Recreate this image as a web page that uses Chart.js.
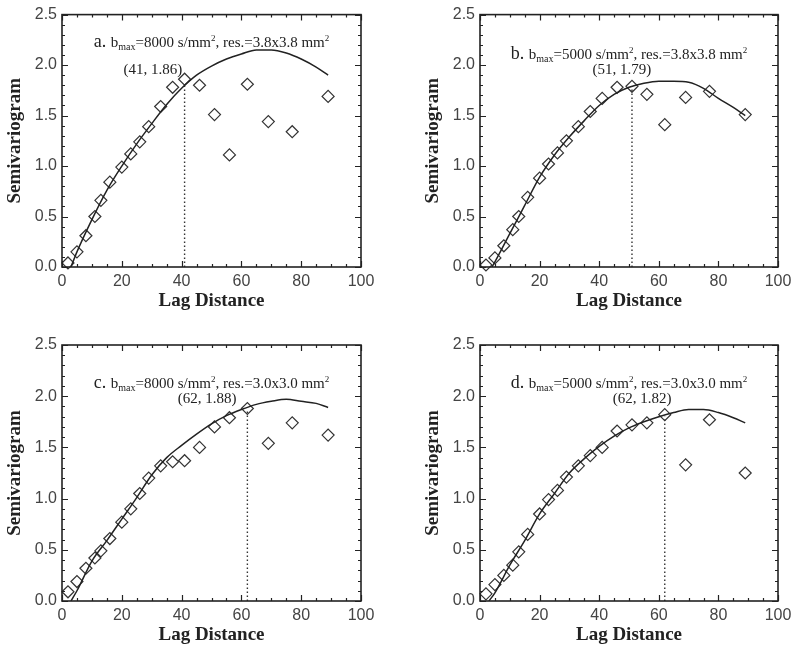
<!DOCTYPE html>
<html><head><meta charset="utf-8">
<script src="https://cdn.jsdelivr.net/npm/chart.js@4/dist/chart.umd.min.js"></script>
<style>
html,body{margin:0;padding:0;background:#fff;}
#wrap{position:relative;width:800px;height:652px;overflow:hidden;}
canvas{position:absolute;}
</style></head><body>
<div id="wrap">
<canvas id="ca" width="400" height="326" style="left:0;top:0"></canvas>
<canvas id="cb" width="400" height="326" style="left:400px;top:0"></canvas>
<canvas id="cc" width="400" height="326" style="left:0;top:326px"></canvas>
<canvas id="cd" width="400" height="326" style="left:400px;top:326px"></canvas>
</div>
<script>
// ---- data ----
const lags = [2,5,8,11,13,16,20,23,26,29,33,37,41,46,51,56,62,69,77,89];
const semiA = [0.04,0.15,0.31,0.50,0.66,0.84,0.99,1.12,1.24,1.39,1.59,1.78,1.86,1.80,1.51,1.11,1.81,1.44,1.34,1.69];
const semiB = [0.02,0.09,0.21,0.37,0.50,0.69,0.88,1.02,1.13,1.25,1.39,1.54,1.67,1.78,1.79,1.71,1.41,1.68,1.74,1.51];
const semiC = [0.09,0.19,0.32,0.42,0.49,0.61,0.77,0.90,1.05,1.20,1.32,1.36,1.37,1.50,1.70,1.79,1.88,1.54,1.74,1.62];
const semiD = [0.07,0.16,0.25,0.35,0.48,0.65,0.85,0.99,1.08,1.21,1.32,1.42,1.50,1.66,1.72,1.74,1.82,1.33,1.77,1.25];

const fitLagsA = [3,5,10,15,20,25,30,35,40,45,50,55,60,65,70,75,80,85,89];
const fitA = [0,0.15,0.47,0.76,1.00,1.22,1.42,1.61,1.77,1.90,1.99,2.06,2.11,2.15,2.15,2.12,2.06,1.98,1.90];
const fitLagsB = [4,5,10,15,20,25,30,35,40,45,50,55,60,65,70,75,80,85,89];
const fitB = [0,0.05,0.33,0.61,0.89,1.11,1.29,1.45,1.60,1.71,1.78,1.82,1.84,1.84,1.83,1.77,1.67,1.58,1.50];
const fitLagsC = [3,5,10,15,20,25,30,35,40,45,50,55,60,65,70,75,80,85,89];
const fitC = [0,0.10,0.39,0.59,0.80,1.01,1.23,1.40,1.52,1.63,1.73,1.81,1.87,1.92,1.95,1.97,1.95,1.93,1.89];
const fitLagsD = [3,5,10,15,20,25,30,35,40,45,50,55,60,65,70,75,80,85,89];
const fitD = [0,0.08,0.35,0.59,0.85,1.05,1.25,1.39,1.51,1.61,1.69,1.75,1.80,1.84,1.87,1.87,1.84,1.79,1.74];

const peakLags = [41,51,62,62];
const peakValues = [1.86,1.79,1.88,1.82];
const dropTops = [1.80,1.77,1.86,1.80];

const panelLetters = ['a','b','c','d'];
const bmaxValues = ['8000','5000','8000','5000'];
const resolutions = ['3.8x3.8','3.8x3.8','3.0x3.0','3.0x3.0'];

const xTicks = [0,20,40,60,80,100];
const yTicks = [0,0.5,1.0,1.5,2.0,2.5];

// ---- drawing ----
const SERIF = '"Liberation Serif","Times New Roman",serif';
const SANS = '"Liberation Sans",Arial,sans-serif';

function drawRich(ctx, segs, cx, baseY){
  let total = 0;
  segs.forEach(s => { ctx.font = s.size + 'px ' + SERIF; s.w = ctx.measureText(s.t).width; total += s.w; });
  let xx = cx - total/2;
  ctx.textAlign = 'left'; ctx.textBaseline = 'alphabetic';
  segs.forEach(s => { ctx.font = s.size + 'px ' + SERIF; ctx.fillText(s.t, xx, baseY + (s.dy||0)); xx += s.w; });
}

const framePlugin = {
  id: 'frame',
  afterDatasetsDraw(chart, args, o) {
    const ctx = chart.ctx;
    const {left, right, top, bottom} = chart.chartArea;
    const xs = chart.scales.x, ys = chart.scales.y;
    ctx.save();
    ctx.strokeStyle = '#222';
    ctx.lineWidth = 1.2;
    ctx.beginPath();
    for (let v = 0; v <= 100; v += 5) {
      const px = Math.round(xs.getPixelForValue(v)) + 0.5;
      const L = (v % 20 === 0) ? 6 : 3;
      ctx.moveTo(px, bottom); ctx.lineTo(px, bottom - L);
      ctx.moveTo(px, top); ctx.lineTo(px, top + L);
    }
    for (let i = 0; i <= 25; i++) {
      const py = Math.round(ys.getPixelForValue(i/10)) + 0.5;
      const L = (i % 5 === 0) ? 6 : 3;
      ctx.moveTo(left, py); ctx.lineTo(left + L, py);
      ctx.moveTo(right, py); ctx.lineTo(right - L, py);
    }
    ctx.stroke();
    ctx.lineWidth = 1.6;
    ctx.strokeRect(left, top, right - left, bottom - top);

    ctx.fillStyle = '#222';
    ctx.font = 'bold 19px ' + SERIF;
    ctx.textAlign = 'center'; ctx.textBaseline = 'middle';
    ctx.fillText('Lag Distance', (left + right)/2, bottom + 34);
    ctx.save();
    ctx.translate(left - 47, (top + bottom)/2);
    ctx.rotate(-Math.PI/2);
    ctx.fillText('Semivariogram', 0, 0);
    ctx.restore();

    const k = o.index;
    drawRich(ctx, [
      {t: panelLetters[k] + '. ', size: 18},
      {t: 'b', size: 15},
      {t: 'max', size: 10, dy: 3},
      {t: '=' + bmaxValues[k] + ' s/mm', size: 15},
      {t: '2', size: 9, dy: -6},
      {t: ', res.=' + resolutions[k] + ' mm', size: 15},
      {t: '2', size: 9, dy: -6}
    ], (left + right)/2, top + o.titleDy + 5);

    ctx.font = '15px ' + SERIF;
    ctx.textAlign = 'center'; ctx.textBaseline = 'middle';
    ctx.fillText('(' + peakLags[k] + ', ' + peakValues[k].toFixed(2) + ')',
      xs.getPixelForValue(o.labelX), ys.getPixelForValue(o.labelY));
    ctx.restore();
  }
};

function makeChart(id, k, fx, fy, semi, lay) {
  new Chart(document.getElementById(id), {
    type: 'scatter',
    data: { datasets: [
      { type: 'line', data: fx.map((x, i) => ({x: x, y: fy[i]})), borderColor: '#222', borderWidth: 1.5,
        pointRadius: 0, cubicInterpolationMode: 'monotone', fill: false },
      { type: 'line', data: [{x: peakLags[k], y: 0}, {x: peakLags[k], y: dropTops[k]}], borderColor: '#333',
        borderWidth: 1.4, borderDash: [1.5, 2.5], pointRadius: 0, fill: false },
      { data: lags.map((x, i) => ({x: x, y: semi[i]})), pointStyle: 'rectRot', pointRadius: 6,
        borderColor: '#333', borderWidth: 1.2, backgroundColor: 'rgba(0,0,0,0)', clip: false }
    ]},
    options: {
      responsive: false, animation: false, devicePixelRatio: 1,
      layout: { padding: { top: lay.top, right: lay.right, left: 0, bottom: 0 } },
      plugins: { legend: { display: false }, tooltip: { enabled: false },
        frame: { index: k, titleDy: lay.titleDy, labelX: lay.labelX, labelY: lay.labelY } },
      scales: {
        x: { type: 'linear', min: 0, max: 100,
          afterBuildTicks: s => { s.ticks = xTicks.map(v => ({value: v})); },
          grid: { display: false, drawTicks: false }, border: { display: false },
          ticks: { padding: 5, maxRotation: 0, color: '#444', font: { family: SANS, size: 16 } },
          afterFit: s => { s.height = lay.bottomH; } },
        y: { type: 'linear', min: 0, max: 2.5,
          afterBuildTicks: s => { s.ticks = yTicks.map(v => ({value: v})); },
          grid: { display: false, drawTicks: false }, border: { display: false },
          ticks: { padding: 5, color: '#444', font: { family: SANS, size: 16 }, callback: v => Number(v).toFixed(1) },
          afterFit: s => { s.width = lay.left; } }
      }
    },
    plugins: [framePlugin]
  });
}

makeChart('ca', 0, fitLagsA, fitA, semiA, {left: 62, top: 13, right: 39, bottomH: 59, titleDy: 27, labelX: 30.4, labelY: 1.95});
makeChart('cb', 1, fitLagsB, fitB, semiB, {left: 80, top: 14, right: 22, bottomH: 59, titleDy: 39, labelX: 47.6, labelY: 1.95});
makeChart('cc', 2, fitLagsC, fitC, semiC, {left: 62, top: 19, right: 39, bottomH: 51, titleDy: 38, labelX: 48.5, labelY: 1.97});
makeChart('cd', 3, fitLagsD, fitD, semiD, {left: 80, top: 19, right: 22, bottomH: 51, titleDy: 38, labelX: 54.4, labelY: 1.97});
</script>
</body></html>
